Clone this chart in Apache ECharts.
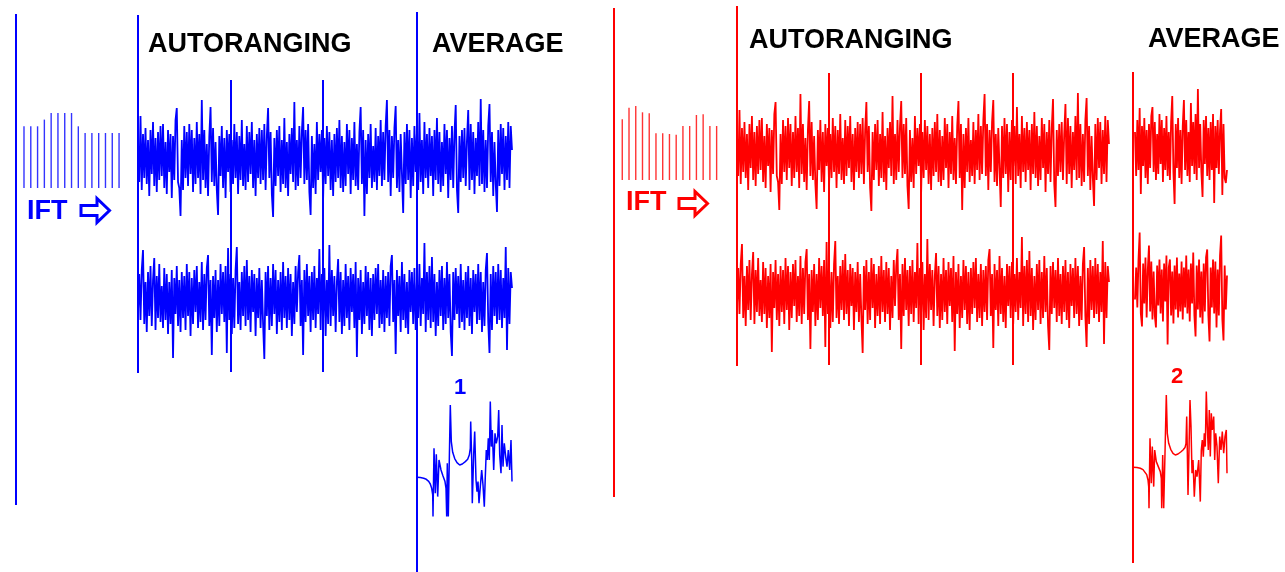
<!DOCTYPE html>
<html>
<head>
<meta charset="utf-8">
<script src="https://cdn.jsdelivr.net/npm/echarts@6/dist/echarts.min.js"></script>
<style>
html,body{margin:0;padding:0;background:#fff;}
#chart{width:1285px;height:572px;}
</style>
</head>
<body>
<div id="chart"></div>
<script>
const BLUE = '#0000ff';
const RED = '#ff0000';

// Line spectra fed to the inverse Fourier transform (stem heights)
const iftBlue = [61.7, 61.7, 61.7, 68.4, 75, 75, 75, 75, 61.7, 55, 55, 55, 55, 55, 55];
const iftRed = [60.7, 72.3, 74, 67.7, 66.7, 46.7, 46.7, 46, 45.3, 54, 54, 65, 65.7, 54, 54];

// Time-domain records during autoranging (same record in both panels)
const noiseUpper = [
  14, -22, 44, -30, 26, -18, 32, -24, 20, -36, 30, -14, 38, -26, 22, -32, 28, -20, 34, -16,
  36, -28, 18, -34, 30, -12, 26, -38, 24, -20, 40, 52, -22, -28, -56, 20, -30, 34, -18, 28,
  -26, 36, -14, 30, -32, 22, -24, 38, -18, 26, -34, 60, -20, 30, -28, 16, -36, 24, 53, -22,
  32, -26, 18, -30, -55, 24, -16, 34, -28, 22, -38, 30, -12, 26, -32, 20, -24, 36, -18, 28,
  -34, 24, -20, 40, -26, 16, -30, 34, -22, 28, -14, 38, -28, 20, -36, 26, -18, 32, -24, 30,
  -20, 36, -30, 24, 52, -18, 28, -34, -57, 22, -26, 30, -16, 34, -32, 20, -24, 42, -28, 18,
  -36, 26, -14, 32, -22, 58, -30, 20, -26, 34, -18, 28, 53, -24, 30, -20, 36, -32, -55, 24,
  -28, 16, -34, 38, -20, 26, -12, 30, -38, 22, -24, 34, -16, 28, -30, 20, -36, 26, -22, 32,
  -18, 40, -28, 24, -32, 18, -26, 36, -14, 30, -34, 22, -20, 38, -26, 16, -30, 28, 53, -24,
  30, -56, 20, -34, 26, -18, 36, -28, 14, -22, 32, -30, 24, -16, 40, -26, 28, -20, 34, 60,
  -22, 30, -36, 24, -18, 32, 54, -28, 20, -32, 26, -14, -53, 28, -24, 36, -20, 30, -38, 22,
  -26, 34, -12, 28, -30, 47, -22, 20, -34, 38, -18, 26, -28, 32, -16, 24, -36, 30, -20, 42,
  -24, 28, -32, 18, -26, 36, -14, 30, -38, 22, -20, 34, -28, 26, 55, -30, -53, 24, -22, 30,
  -18, 32, -26, 20, 50, -30, 36, -20, 28, -34, 22, -16, 38, -26, 61, -24, 30, -32, 20, -28,
  34, 56, -22, 28, -36, 18, -24, -52, 30, -26, 36, -14, 32, -30, 24, -20, 38, -28, 34, 10
];
const noiseLower = [
  -12, 26, -20, 30, 50, -24, 18, -32, 28, -16, 34, -26, 20, 42, -30, 24, -18, 36, -22, 14,
  -28, 32, -20, 26, -34, 18, -24, 30, -58, 22, -14, 34, -26, 20, -32, 28, -18, 24, -30, 36,
  -16, 28, -36, 22, -24, 30, -12, 34, -28, 18, -22, 38, -30, 26, -20, 32, 45, -26, 20, -55,
  24, -18, 30, -32, 20, -26, 36, -14, 28, -22, 34, -53, 52, -20, 26, -34, 22, -28, 30, 53,
  -24, 18, -30, 28, -16, 34, -26, 40, -20, 24, -32, 30, -12, 26, -36, 22, -18, 32, -28, 20,
  -24, -59, 28, -16, 34, -30, 22, -26, 36, -14, 30, -34, 20, -22, 28, -30, 38, -18, 24, -28,
  32, -20, 26, -36, 18, -24, 34, -12, 28, 45, -26, 20, -55, 30, -22, 36, -16, 24, -32, 28,
  -20, 34, -28, 22, -14, 51, -30, 26, -18, 32, -36, 20, -24, 55, -26, 30, -16, 24, -32, 18,
  41, -22, 28, -34, 20, -26, 36, -18, 24, -30, 32, -12, 26, -28, 38, -57, 22, -20, 30, -34,
  18, -24, 34, -16, 28, -30, 22, -36, 26, -20, 32, -14, 36, -28, 20, -24, 30, -32, 24, -18,
  28, -26, 34, 45, -22, 20, -54, 30, -16, 24, -32, 38, -20, 26, -28, 18, -34, 30, -12, 28,
  -24, 32, -30, 20, -18, 36, -26, 22, -14, 57, -32, 28, -20, 34, -28, 43, -22, 26, -36, 18,
  -26, 30, -16, 34, -30, 22, -24, 38, -18, 26, -32, -56, 28, -20, 32, -14, 24, -28, 36, -22,
  20, -30, 28, -18, 34, -26, 22, -34, 30, -12, 26, -24, 36, -20, 28, -32, 18, -26, 30, 47,
  -22, -53, 26, -30, 34, -16, 28, -24, 36, -20, 30, -28, 22, -18, 53, -50, 32, -24, 28, 12
];

// Sample indices where the range switches
const rangeSwitchBlue = [74, 148];
const rangeSwitchRed = [74, 148, 222];

// Records kept for averaging (red panel)
const avgUpper = [
  18, -26, 30, -20, 42, -44, 24, -16, 32, -28, 20, -34, 26, -18, 34, 43, -22, 28, -30, 16,
  -24, 36, -14, 30, -32, 22, -20, 34, -26, 18, -30, 28, 54, -22, -54, 26, -18, 32, -28, 20,
  -34, 24, 50, -20, 30, -26, 18, -32, 47, -16, 28, -24, 36, -30, 61, -18, 26, -22, -47, 30,
  -14, 34, -26, 22, -30, 28, -20, 36, -53, 24, -18, 30, -24, 20, 41, -45, 26, -28, -33, -20
];
const avgLower = [
  -10, 22, -18, 30, 57, -24, -37, 26, -14, 32, -28, 20, 44, -22, 28, -30, 18, -26, -38, 24,
  -16, 30, -24, 20, -32, 26, -12, 34, -55, 22, 30, -26, 18, -34, 24, -20, 32, -28, 16, -22,
  28, -30, 22, -18, 34, -24, 20, -32, 26, -14, 37, -26, -47, 24, -20, 30, -28, 18, -34, 26,
  -22, 32, 40, -26, -52, 22, -18, 30, -24, 28, -38, 20, -26, 34, 54, -30, -51, 24, -20, 14
];

// Averaged spectra [frequency, amplitude]
const spectrum1 = [
  [0, 0], [3.3, -0.3], [6.7, -1], [9.3, -2], [11.7, -4], [13.3, -6.7], [14.7, -11], [15.7, -17.7],
  [16, -39.3], [17, 29], [18.3, -16], [19.3, 23], [20.7, -19.3], [22, 17.3], [24, 7.3], [26, 1.3],
  [28, -4.3], [29, -11], [29.7, -39.3], [30.3, 14], [31.3, -39.3], [32.3, 17.3], [33.3, 72.3],
  [34.3, 35.7], [35.7, 25], [37.7, 18.7], [40, 14.7], [42.7, 12.3], [45.3, 13.3], [48.3, 15.7],
  [50.7, 18], [52.3, 22.3], [53.3, 29], [53.7, 55.7], [54.7, 17.3], [55.3, -26], [56.7, 24],
  [57.7, 45.7], [59, -2.7], [60, -14.3], [61, -4.3], [62, -26], [63.3, -9.3], [64.7, 7.3],
  [66, -7.7], [67.3, -29.3], [68.3, 0.7], [69.3, 27.3], [70.3, 17.3], [71.3, 39], [72.3, 17.3],
  [73.3, 75.7], [74.3, 30.7], [75.3, 47.3], [76.7, 7.3], [78, 44], [79.3, 34], [80.7, 40.7],
  [81.7, 67.3], [82.7, 22.3], [84, 4], [85, 52.3], [86, 10.7], [87.3, 34], [88.7, 20.7],
  [90, 10.7], [91.3, 27.3], [92.7, 7.3], [94, 37.3], [95, -4.3]
];
const spectrum2 = [
  [0, 0], [4, -0.3], [7.3, -1], [10, -2.3], [12, -4.3], [13.7, -7.3], [15, -12.7], [15.7, -19.3],
  [16, -41], [17, 29], [18.3, -16], [19.3, 20.7], [20.7, -19.3], [21.7, 17.3], [23.3, 5.7],
  [25.3, 0.7], [27.3, -4.3], [28.3, -11], [28.7, -41], [29.7, 12.3], [30.7, -41], [32, 14],
  [33.3, 72.3], [34.3, 34], [35.7, 24], [37.7, 18], [40, 14], [42.3, 12.3], [45, 13.3],
  [47.7, 15.3], [50, 17.3], [52, 19.7], [53, 24], [53.7, 50.7], [54.3, 17.3], [55, -27.7],
  [56, 17.3], [57, 67.3], [58, 40.7], [59, -6], [60, 7.3], [61.3, -29.3], [62.7, -2.7],
  [64, -9.3], [65.7, 7.3], [67.3, -34.3], [68.3, 17.3], [69.3, 27.3], [70.3, 10.7], [71.3, 34],
  [72.3, 20.7], [73.3, 75.7], [74.3, 40.7], [75.3, 17.3], [76.3, 57.3], [77.3, 10.7], [78.3, 54],
  [79.3, 37.3], [80.7, 50.7], [81.7, 7.3], [82.7, 34], [84, 20.7], [85.3, -16], [86.7, 30.7],
  [88, 17.3], [89.3, 35.7], [90.7, 14], [92, 30.7], [93.3, 37.3], [94, -6]
];

const grids = [], xAxes = [], yAxes = [], series = [];

function panel(rect, x, y) {
  const i = grids.length;
  grids.push(rect);
  xAxes.push(Object.assign({ gridIndex: i, show: false }, x));
  yAxes.push(Object.assign({ gridIndex: i, show: false }, y));
  return i;
}

// one noisy record, 1 unit = 1 px vertically
function record(left, width, center, data, color) {
  const g = panel(
    { left: left, top: center - 65, width: width, height: 130 },
    { type: 'category', boundaryGap: false, data: data.map((_, i) => i) },
    { type: 'value', min: -65, max: 65 }
  );
  series.push({
    type: 'line', xAxisIndex: g, yAxisIndex: g, data: data,
    symbol: 'none', silent: true, lineStyle: { color: color, width: 1.8 }
  });
}

// stem plot of the input spectrum
function stems(left, band, top, data, color) {
  const g = panel(
    { left: left, top: top, width: band * data.length, height: 100 },
    { type: 'category', data: data.map((_, i) => i) },
    { type: 'value', min: 0, max: 100 }
  );
  series.push({
    type: 'bar', xAxisIndex: g, yAxisIndex: g, data: data,
    barWidth: 1.4, silent: true, itemStyle: { color: color, opacity: 0.8 }
  });
}

// averaged spectrum
function spectrum(left, base, data, color) {
  const g = panel(
    { left: left, top: base - 80, width: 95, height: 130 },
    { type: 'value', min: 0, max: 95 },
    { type: 'value', min: -50, max: 80 }
  );
  series.push({
    type: 'line', xAxisIndex: g, yAxisIndex: g, data: data,
    symbol: 'none', silent: true, lineStyle: { color: color, width: 1.5 }
  });
}

// vertical markers where the range switches
function switches(left, width, top, height, n, idx, color) {
  const g = panel(
    { left: left, top: top, width: width, height: height },
    { type: 'value', min: 0, max: n - 1 },
    { type: 'value', min: 0, max: 1 }
  );
  series.push({
    type: 'line', xAxisIndex: g, yAxisIndex: g, data: [],
    markLine: {
      symbol: 'none', silent: true, animation: false,
      label: { show: false },
      lineStyle: { color: color, width: 2, type: 'solid' },
      data: idx.map(v => ({ xAxis: v }))
    }
  });
}

// blue panel
stems(20.6, 6.79, 88, iftBlue, BLUE);
record(138, 374, 160, noiseUpper, BLUE);
record(138, 374, 300, noiseLower, BLUE);
switches(138, 374, 80, 292, noiseUpper.length, rangeSwitchBlue, BLUE);
spectrum(417, 477.3, spectrum1, BLUE);

// red panel
stems(618.9, 6.74, 80, iftRed, RED);
record(737, 372, 154, noiseUpper, RED);
record(737, 372, 294, noiseLower, RED);
switches(737, 372, 73, 292, noiseUpper.length, rangeSwitchRed, RED);
record(1135, 92, 150, avgUpper, RED);
record(1135, 92, 289.5, avgLower, RED);
spectrum(1133, 467.3, spectrum2, RED);

const HEAD = 'bold 27px "Liberation Sans", Arial, sans-serif';
const SMALL = 'bold 22px "Liberation Sans", Arial, sans-serif';
const ARROW_POINTS = [[0, -5], [16, -5], [16, -12], [28.5, 0], [16, 12], [16, 5], [0, 5]];

function divider(x, y1, y2, color) {
  return { type: 'line', silent: true, shape: { x1: x, y1: y1, x2: x, y2: y2 }, style: { stroke: color, lineWidth: 2 } };
}
function label(text, x, y, font, color, align) {
  return { type: 'text', silent: true, x: x, y: y, style: { text: text, font: font, fill: color, align: align || 'left', verticalAlign: 'middle' } };
}
function arrow(x, y, color) {
  return { type: 'polygon', silent: true, x: x, y: y, shape: { points: ARROW_POINTS }, style: { fill: null, stroke: color, lineWidth: 3, lineJoin: 'miter' } };
}

const chart = echarts.init(document.getElementById('chart'), null, { renderer: 'canvas' });
chart.setOption({
  animation: false,
  backgroundColor: '#ffffff',
  grid: grids,
  xAxis: xAxes,
  yAxis: yAxes,
  series: series,
  graphic: [
    divider(16, 14, 505, BLUE),
    divider(138, 15, 373, BLUE),
    divider(417, 12, 572, BLUE),
    divider(614, 8, 497, RED),
    divider(737, 6, 366, RED),
    divider(1133, 72, 563, RED),
    label('AUTORANGING', 148, 44.5, HEAD, '#000000'),
    label('AVERAGE', 432, 44.5, HEAD, '#000000'),
    label('AUTORANGING', 749, 40.5, HEAD, '#000000'),
    label('AVERAGE', 1148, 39.5, HEAD, '#000000'),
    label('IFT', 27, 211.5, HEAD, BLUE),
    arrow(81, 210.5, BLUE),
    label('IFT', 626, 203, HEAD, RED),
    arrow(679, 203.5, RED),
    label('1', 460, 387.5, SMALL, BLUE, 'center'),
    label('2', 1177, 377, SMALL, RED, 'center')
  ]
});
</script>
</body>
</html>
